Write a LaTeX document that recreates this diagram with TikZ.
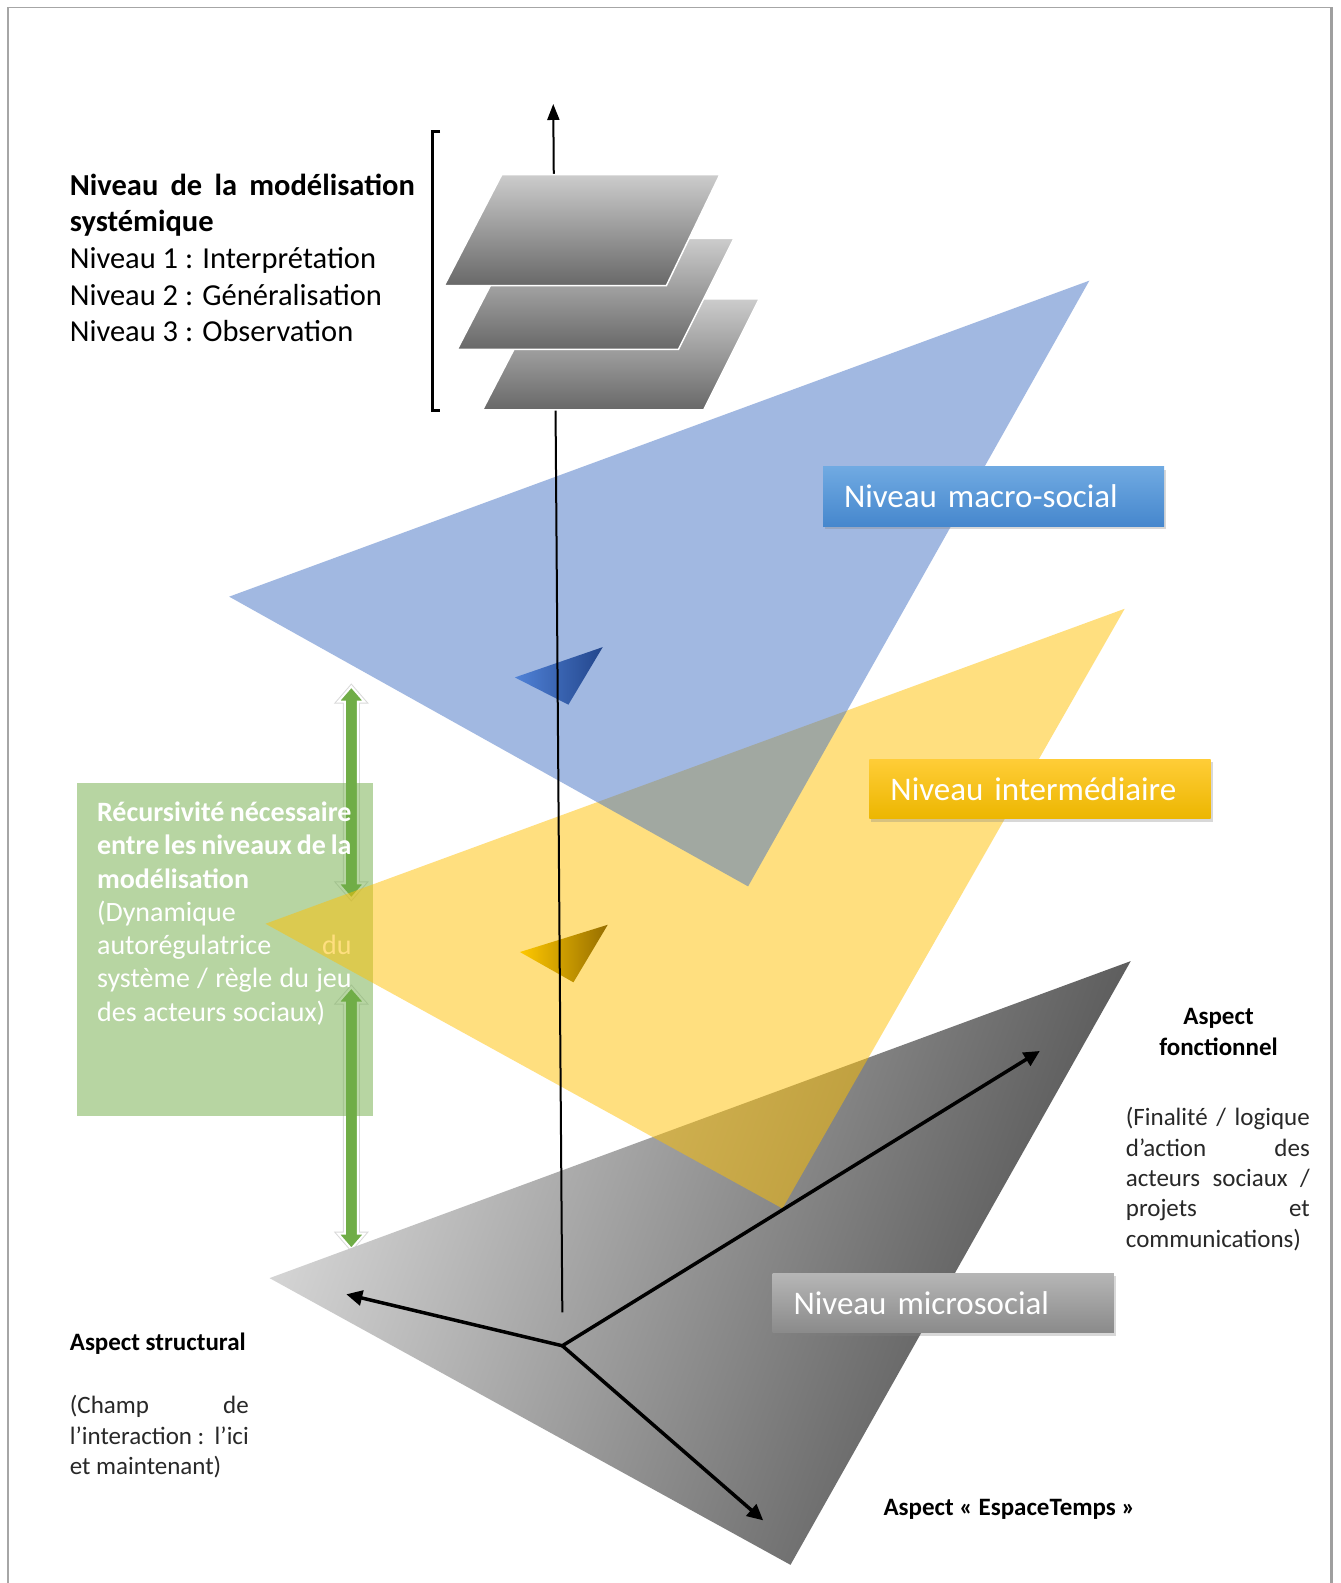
\documentclass[tikz,border=0pt]{standalone}
\usepackage{fontspec}
\setmainfont{Carlito}
\usetikzlibrary{arrows.meta,shadows}
\definecolor{obl}{HTML}{4472C4}
\definecolor{ogo}{HTML}{FFC000}
\definecolor{ogr}{HTML}{70AD47}
\definecolor{plTop}{RGB}{204,204,204}
\definecolor{plBot}{RGB}{104,104,104}
\definecolor{triL}{RGB}{212,212,212}
\definecolor{triD}{RGB}{78,78,78}
\definecolor{mbL}{RGB}{80,130,215}
\definecolor{mbR}{RGB}{35,70,140}
\definecolor{myL}{RGB}{255,200,0}
\definecolor{myR}{RGB}{150,110,0}
\definecolor{macT}{RGB}{112,170,226}
\definecolor{macB}{RGB}{70,135,205}
\definecolor{intT}{RGB}{255,205,55}
\definecolor{intB}{RGB}{236,182,0}
\definecolor{micT}{RGB}{182,182,182}
\definecolor{micB}{RGB}{138,138,138}
\definecolor{txtgray}{RGB}{40,40,40}
\begin{document}
\begin{tikzpicture}[x=1.0098pt,y=-1.0098pt,
  every node/.style={inner sep=0pt},
  lbl/.style={anchor=north west, minimum width=341.3pt, minimum height=59.6pt,
    inner xsep=21pt, inner ysep=0pt, text width=299.3pt, align=left, text=white,
    font=\fontsize{33}{38}\selectfont,
    drop shadow={shadow xshift=2pt,shadow yshift=-3pt,opacity=.3}},
  plane/.style={top color=plTop, bottom color=plBot, draw=white, line width=1.5pt},
  axarrow/.style={line width=3.5pt, -{Triangle[length=16pt,width=15pt]}},
  txtblk/.style={align=left, text=txtgray},
  garrow/.style={fill=ogr, draw=white, line width=2pt, line join=miter,
    preaction={draw=black!15, line width=4pt}},
]
\useasboundingbox (0,0) rectangle (1328,1568);
\fill[white] (0,0) rectangle (1328,1568);
% frame
\draw[gray!70, line width=1.5pt] (7.9,1568) -- (7.9,7.4) -- (1319,7.4);
\draw[gray!75, line width=2.5pt] (1319,7.4) -- (1319,1568);

% green double arrows
\filldraw[garrow] (348,680) -- (361,695) -- (354.5,695) -- (354.5,875) -- (361,875)
  -- (348,890) -- (335,875) -- (341.5,875) -- (341.5,695) -- (335,695) -- cycle;
\filldraw[garrow] (348,978) -- (361,993) -- (354.5,993) -- (354.5,1222) -- (361,1222)
  -- (348,1237) -- (335,1222) -- (341.5,1222) -- (341.5,993) -- (335,993) -- cycle;

% green box and text
\node[fill=ogr, fill opacity=.5, anchor=north west, minimum width=295.9pt,
      minimum height=333.2pt] (recbox) at (76,775) {};
\node[txtblk, text=white, anchor=north west, font=\fontsize{28}{33.3}\selectfont]
  (rectext) at (96,794)
  {\makebox[254.5pt][s]{\bfseries Récursivité nécessaire}\\
   \makebox[254.5pt][s]{\bfseries entre les niveaux de la}\\
   \textbf{modélisation}\\
   (Dynamique\\
   \makebox[254.5pt][s]{autorégulatrice\hfill du}\\
   \makebox[254.5pt][s]{système / règle du jeu}\\
   des acteurs sociaux)};

% bottom gray triangle
\shade[top color=triL, bottom color=triD, shading angle=70]
  (267,1266) -- (1120,952) -- (783,1550) -- cycle;
% yellow triangle
\fill[ogo, fill opacity=.5] (263,915) -- (1114,603) -- (775,1197) -- cycle;
% blue triangle
\fill[obl, fill opacity=.5] (227,591) -- (1079,278) -- (741,878) -- cycle;

% small markers
\shade[left color=mbL, right color=mbR] (510,671) -- (597,641) -- (563,698) -- cycle;
\shade[left color=myL, right color=myR] (515,943) -- (602,916) -- (568,973) -- cycle;

% vertical axis
\coordinate (axbot) at (557,1300);
\coordinate (axtop) at (548,103);
\draw[line width=2pt, -{Triangle[length=16pt,width=12pt]}] (axbot) -- (axtop);

% stacked planes
\shade[plane] (535,296) -- (752,296) -- (697,406) -- (478,406) -- cycle;
\shade[plane] (510,236) -- (727,236) -- (672,346) -- (453,346) -- cycle;
\shade[plane] (497,173) -- (713,173) -- (660,283) -- (440,283) -- cycle;

% bracket
\draw[line width=3pt] (436,130) -- (428,130) -- (428,407) -- (436,407);

% level labels
\node[lbl, top color=macT, bottom color=macB] (macro) at (815,462) {Niveau macro-social};
\node[lbl, top color=intT, bottom color=intB] (inter) at (861,752) {Niveau intermédiaire};
\node[lbl, top color=micT, bottom color=micB] (micro) at (765,1261) {Niveau microsocial};

% top-left text
\node[txtblk, text=black, anchor=north west, font=\fontsize{30.5}{36.6}\selectfont]
  (modtext) at (69,172)
  {\makebox[345pt][s]{\bfseries Niveau de la modélisation}\\
   \textbf{systémique}\\
   Niveau 1 : Interprétation\\
   Niveau 2 : Généralisation\\
   Niveau 3 : Observation};

% right text
\node[align=center, text=black, anchor=north, font=\bfseries\fontsize{25}{30.3}\selectfont]
  (fonchead) at (1207,999) {Aspect\\fonctionnel};
\node[txtblk, anchor=north west, font=\fontsize{25}{30.3}\selectfont]
  (fontext) at (1115,1097)
  {\makebox[184pt][s]{(Finalité / logique}\\
   \makebox[184pt][s]{d’action\hfill des}\\
   \makebox[184pt][s]{acteurs sociaux /}\\
   \makebox[184pt][s]{projets\hfill et}\\
   communications)};

% left bottom text
\node[anchor=base west, text=black, font=\bfseries\fontsize{25}{30}\selectfont]
  (structhead) at (69,1338) {Aspect structural};
\node[txtblk, anchor=north west, font=\fontsize{25}{30.3}\selectfont]
  (structtext) at (69,1382)
  {\makebox[179pt][s]{(Champ\hfill de}\\
   \makebox[179pt][s]{l’interaction :\hfill l’ici}\\
   et maintenant)};

% espace-temps
\node[anchor=base west, text=black, font=\bfseries\fontsize{25}{30}\selectfont]
  (ethead) at (875,1501) {Aspect «~EspaceTemps~»};

% three aspect arrows
\coordinate (J) at (557,1333);
\coordinate (SL) at (343,1282);
\coordinate (FU) at (1030,1041);
\coordinate (ET) at (756,1506);
\draw[axarrow] (J) -- (SL);
\draw[axarrow] (J) -- (FU);
\draw[axarrow] (J) -- (ET);
\end{tikzpicture}
\end{document}
